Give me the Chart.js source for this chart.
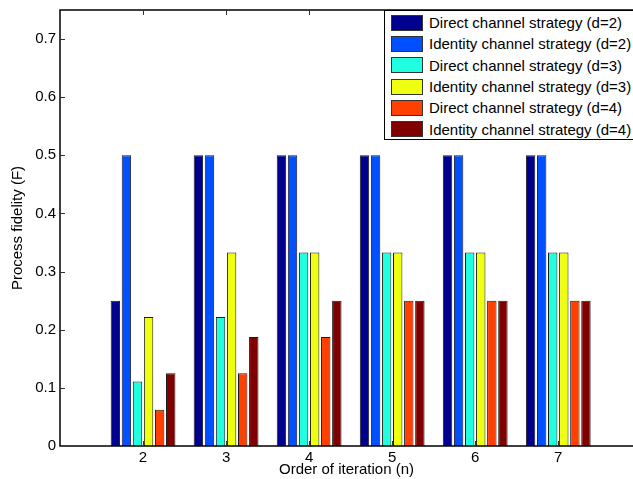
<!DOCTYPE html>
<html>
<head>
<meta charset="utf-8">
<script src="https://cdn.jsdelivr.net/npm/chart.js@4.4.1/dist/chart.umd.min.js"></script>
<style>
  html, body { margin: 0; padding: 0; background: #fff; }
  #wrap { position: relative; width: 633px; height: 479px; overflow: hidden; }
  #legend {
    position: absolute; left: 384px; top: 10px; width: 260px; height: 127px;
    border: 1px solid #000; background: #fff; box-sizing: content-box;
    font-family: "Liberation Sans", Arial, Helvetica, sans-serif; font-size: 15px;
    white-space: nowrap;
    padding-top: 1px;
  }
  .row { height: 21.3px; display: flex; align-items: center; }
  .sw { width: 30px; height: 14px; margin-left: 6px; margin-right: 6px; border: 1px solid #333; }
</style>
</head>
<body>
<div id="wrap">
  <canvas id="c" width="633" height="479"></canvas>
  <div id="legend"></div>
</div>
<script>
// data
const iterations = [2, 3, 4, 5, 6, 7];
const directD2   = [0.25, 0.5, 0.5, 0.5, 0.5, 0.5];
const identityD2 = [0.5, 0.5, 0.5, 0.5, 0.5, 0.5];
const directD3   = [0.111, 0.222, 0.333, 0.333, 0.333, 0.333];
const identityD3 = [0.222, 0.333, 0.333, 0.333, 0.333, 0.333];
const directD4   = [0.0625, 0.125, 0.1875, 0.25, 0.25, 0.25];
const identityD4 = [0.125, 0.1875, 0.25, 0.25, 0.25, 0.25];

const seriesLabels = [
  'Direct channel strategy (d=2)',
  'Identity channel strategy (d=2)',
  'Direct channel strategy (d=3)',
  'Identity channel strategy (d=3)',
  'Direct channel strategy (d=4)',
  'Identity channel strategy (d=4)'
];
const seriesValues = [directD2, identityD2, directD3, identityD3, directD4, identityD4];
const colors = ['#00008F', '#0050FF', '#20FFDF', '#EFFF10', '#FF4000', '#800000'];

const FONT = '"Liberation Sans", Arial, Helvetica, sans-serif';

const datasets = seriesLabels.map((lab, i) => ({
  label: lab,
  data: iterations.map((x, j) => ({ x: x, y: seriesValues[i][j] })),
  backgroundColor: colors[i],
  borderColor: '#1a1a1a',
  borderWidth: 1,
  categoryPercentage: 0.8,
  barPercentage: 0.85
}));

// box + inward ticks like matlab
const boxTicks = {
  id: 'boxTicks',
  afterDraw(chart) {
    const { ctx, chartArea: a, scales } = chart;
    ctx.save();
    ctx.strokeStyle = '#000';
    ctx.lineWidth = 1.5;
    ctx.strokeRect(a.left, a.top, a.right - a.left + 5, a.bottom - a.top);
    ctx.lineWidth = 1;
    ctx.strokeStyle = '#333';
    iterations.forEach(v => {
      const px = Math.round(scales.x.getPixelForValue(v)) + 0.5;
      ctx.beginPath();
      ctx.moveTo(px, a.bottom); ctx.lineTo(px, a.bottom - 5);
      ctx.moveTo(px, a.top); ctx.lineTo(px, a.top + 5);
      ctx.stroke();
    });
    for (let k = 1; k <= 7; k++) {
      const py = Math.round(scales.y.getPixelForValue(k / 10)) + 0.5;
      ctx.beginPath();
      ctx.moveTo(a.left, py); ctx.lineTo(a.left + 5, py);
      ctx.stroke();
    }
    ctx.restore();
  }
};

const chart = new Chart(document.getElementById('c'), {
  type: 'bar',
  data: { datasets },
  options: {
    responsive: false,
    animation: false,
    layout: { padding: { top: 10, right: 0, left: 0, bottom: 0 } },
    plugins: { legend: { display: false }, tooltip: { enabled: false } },
    scales: {
      x: {
        type: 'linear',
        min: 1, max: 7.9,
        offset: false,
        grid: { display: false, drawTicks: false },
        border: { display: false },
        ticks: {
          stepSize: 1, includeBounds: false, autoSkip: false, maxRotation: 0,
          padding: 3, color: '#000', font: { family: FONT, size: 15 },
          callback: v => (v >= 2 && v <= 7 ? String(v) : '')
        },
        title: { display: true, text: 'Order of iteration (n)', color: '#000',
                 padding: 0, font: { family: FONT, size: 15 } },
        afterFit(s) { s.height = 33; s.paddingLeft = 0; s.paddingRight = 0; }
      },
      y: {
        min: 0, max: 0.75,
        grid: { display: false, drawTicks: false },
        border: { display: false },
        ticks: {
          stepSize: 0.1, includeBounds: false, padding: 4, color: '#000',
          font: { family: FONT, size: 15 },
          callback: v => String(Math.round(v * 10) / 10)
        },
        title: { display: true, text: 'Process fidelity (F)', color: '#000',
                 padding: 9, font: { family: FONT, size: 15 } },
        afterFit(s) { s.width = 60; s.paddingTop = 0; s.paddingBottom = 0; }
      }
    }
  },
  plugins: [boxTicks]
});

// legend inside the axes, top right
const leg = document.getElementById('legend');
seriesLabels.forEach((lab, i) => {
  const row = document.createElement('div');
  row.className = 'row';
  const sw = document.createElement('span');
  sw.className = 'sw';
  sw.style.background = colors[i];
  const t = document.createElement('span');
  t.textContent = lab;
  row.appendChild(sw);
  row.appendChild(t);
  leg.appendChild(row);
});
</script>
</body>
</html>
